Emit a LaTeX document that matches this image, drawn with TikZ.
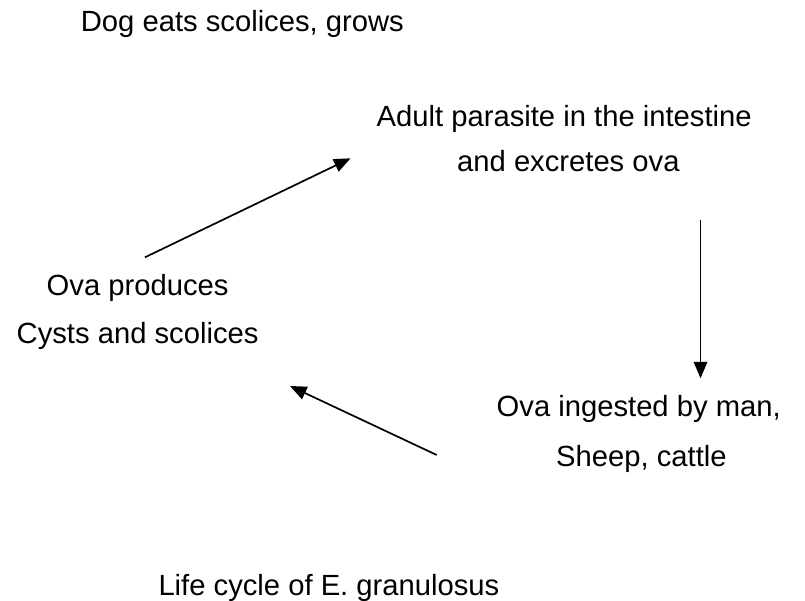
\documentclass[tikz,border=0pt]{standalone}
\usepackage{fontspec}
\setmainfont{Liberation Sans}
\usetikzlibrary{arrows.meta}
\begin{document}
\begin{tikzpicture}[x=1pt,y=-1pt,
  lbl/.style={anchor=base west,inner sep=0pt,font=\fontsize{29.2}{35}\selectfont},
  conn/.style={line width=1.7pt,-{Triangle[length=16.5pt,width=13.5pt]}}]
\useasboundingbox (0,0) rectangle (805,601);
\node[lbl] (dog) at (80.7,31.5) {Dog eats scolices, grows};
\node[lbl] (adult1) at (376.5,126.5) {Adult parasite in the intestine};
\node[lbl] (adult2) at (457,171.5) {and excretes ova};
\node[lbl] (ovap) at (46.5,295.5) {Ova produces};
\node[lbl] (cysts) at (16.5,343.5) {Cysts and scolices};
\node[lbl] (ing1) at (496.5,416.5) {Ova ingested by man,};
\node[lbl] (ing2) at (556,466.5) {Sheep, cattle};
\node[lbl] (title) at (158.3,595) {Life cycle of E. granulosus};
\coordinate (a1s) at (145,257.3);
\coordinate (a1e) at (350.5,158.3);
\coordinate (a2s) at (700.5,220);
\coordinate (a2e) at (700.5,378.3);
\coordinate (a3s) at (436.7,455);
\coordinate (a3e) at (290,386);
\draw[conn] (a1s) -- (a1e);
\draw[conn] (a2s) -- (a2e);
\draw[conn] (a3s) -- (a3e);
\end{tikzpicture}
\end{document}
